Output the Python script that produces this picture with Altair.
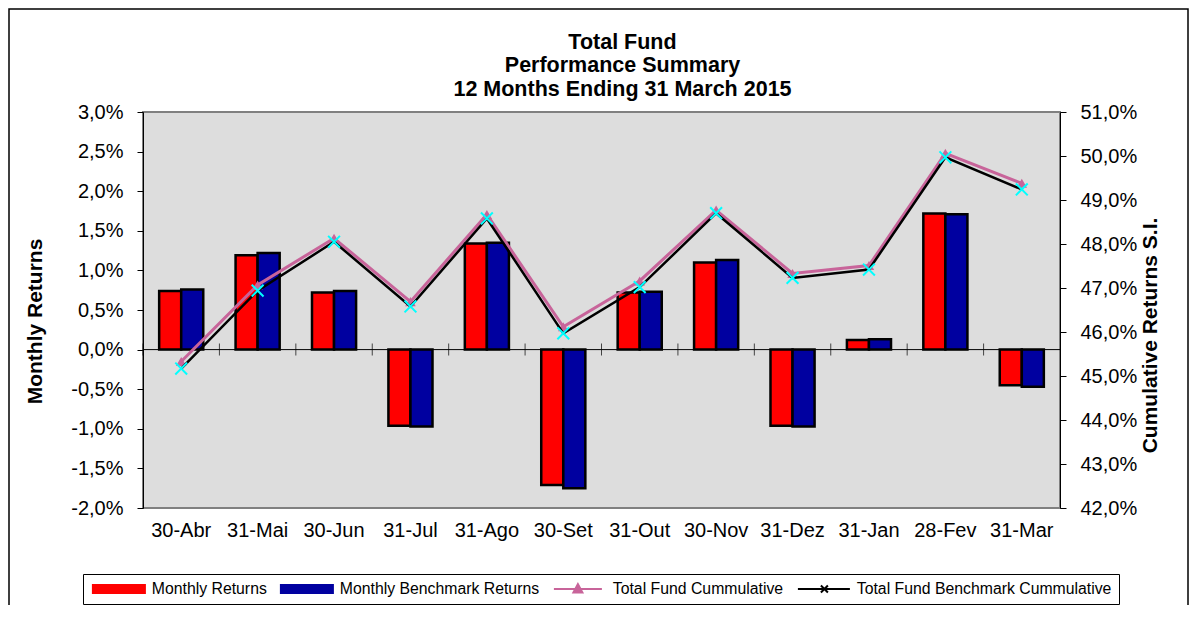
import altair as alt
import pandas as pd

months = ["30-Abr", "31-Mai", "30-Jun", "31-Jul", "31-Ago", "30-Set",
          "31-Out", "30-Nov", "31-Dez", "31-Jan", "28-Fev", "31-Mar"]
monthly_returns = [0.74, 1.19, 0.72, -0.96, 1.34, -1.71, 0.72, 1.10, -0.96, 0.12, 1.72, -0.45]
monthly_benchmark = [0.76, 1.22, 0.74, -0.97, 1.35, -1.75, 0.73, 1.13, -0.97, 0.13, 1.71, -0.47]
fund_cumulative = [45.33, 47.07, 48.13, 46.69, 48.67, 46.12, 47.16, 48.77, 47.33, 47.51, 50.06, 49.38]
bench_cumulative = [45.17, 46.94, 48.05, 46.58, 48.58, 45.97, 47.02, 48.70, 47.23, 47.42, 49.97, 49.24]

series_names = ["Monthly Returns", "Monthly Benchmark Returns",
                "Total Fund Cummulative", "Total Fund Benchmark Cummulative"]
series_colors = ["#FF0000", "#0000A0", "#C8649A", "#000000"]
title_lines = ["Total Fund", "Performance Summary", "12 Months Ending 31 March 2015"]
left_ticks = [-0.02, -0.015, -0.01, -0.005, 0.0, 0.005, 0.01, 0.015, 0.02, 0.025, 0.03]
right_ticks = [0.42, 0.43, 0.44, 0.45, 0.46, 0.47, 0.48, 0.49, 0.50, 0.51]

FONT = "Liberation Sans"
PINK = series_colors[2]

bars_df = pd.DataFrame({
    "month": months * 2,
    "series": [series_names[0]] * 12 + [series_names[1]] * 12,
    "value": [v / 100 for v in monthly_returns + monthly_benchmark],
})
fund_df = pd.DataFrame({"month": months, "series": series_names[2],
                        "value": [v / 100 for v in fund_cumulative]})
bench_df = pd.DataFrame({"month": months, "series": series_names[3],
                         "value": [v / 100 for v in bench_cumulative]})

pct_expr = "replace(replace(format(datum.value, '.1%'), '.', ','), '\u2212', '-')"

shape_expr = (
    "datum.value === 'Monthly Returns' || datum.value === 'Monthly Benchmark Returns' ? "
    "'M-1,-0.8H9.4V0.8H-1Z' : datum.value === 'Total Fund Cummulative' ? "
    "'M-1,0H8.6M2.9,0.7L3.8,-1L4.7,0.7Z' : "
    "'M-1,0H9.4M3.6,-0.7L5,0.7M3.6,0.7L5,-0.7'"
)

legend = alt.Legend(
    title=None, orient="none", legendX=-60, legendY=462,
    direction="horizontal", columns=4, columnPadding=9,
    symbolSize=100, labelOffset=46, labelFont=FONT, labelFontSize=15.8,
    labelLimit=400, labelColor="black", padding=7,
    strokeColor="black", fillColor="white",
    symbolType={"expr": shape_expr}, symbolStrokeWidth=2, symbolOpacity=1,
)

color = alt.Color("series:N",
                  scale=alt.Scale(domain=series_names, range=series_colors),
                  legend=legend)

x_scale = alt.Scale(paddingInner=0, paddingOuter=0)
x_axis = alt.Axis(labelAngle=0, labelFont=FONT, labelFontSize=20,
                  labelColor="black", ticks=False, domain=False,
                  labelPadding=12, title=None)

y_left_scale = alt.Scale(domain=[-0.02, 0.03], nice=False, zero=False)
y_left_axis = alt.Axis(values=left_ticks, labelExpr=pct_expr, grid=False,
                       labelOverlap=False, tickCount=11,
                       labelFont=FONT, labelFontSize=20, labelColor="black",
                       tickSize=6, tickColor="black", domainColor="black",
                       labelPadding=14,
                       title="Monthly Returns", titleFont=FONT,
                       titleFontSize=21, titleFontWeight="bold",
                       titleColor="black", titleAngle=270,
                       titleX=-108, titleY=209, titleAlign="center",
                       titleBaseline="middle")

x_enc = alt.X("month:N", sort=months, title=None, scale=x_scale, axis=x_axis)
y_left = alt.Y("value:Q", title="Monthly Returns", scale=y_left_scale, axis=y_left_axis)

frame = alt.Chart(pd.DataFrame({"a": [0]})).mark_rect(
    fill="transparent", stroke="black", strokeWidth=1.5
).encode(x=alt.value(-134), x2=alt.value(1045), y=alt.value(-103), y2=alt.value(560))

bars = alt.Chart(bars_df).mark_bar(stroke="black", strokeWidth=2.5).encode(
    x=x_enc,
    xOffset=alt.XOffset("series:N", sort=series_names[:2],
                        scale=alt.Scale(paddingOuter=0.733, paddingInner=0)),
    y=y_left,
    color=color,
)

zero_rule = alt.Chart(pd.DataFrame({"value": [0.0]})).mark_rule(
    color="black", strokeWidth=1).encode(y=y_left)

ticks = alt.Chart(pd.DataFrame({"month": months, "value": [0.0] * 12})).mark_tick(
    orient="vertical", color="black", size=12, thickness=1
).encode(x=alt.X("month:N", sort=months, bandPosition=0, title=None,
                 scale=x_scale, axis=x_axis),
         y=y_left)

left_group = alt.layer(frame, bars, zero_rule, ticks)

y_right = alt.Y("value:Q", title="Cumulative Returns S.I.",
                scale=alt.Scale(domain=[0.42, 0.51], nice=False, zero=False),
                axis=alt.Axis(orient="right", values=right_ticks, labelExpr=pct_expr,
                              grid=False, labelOverlap=False,
                              labelFont=FONT, labelFontSize=20,
                              labelColor="black", tickSize=6, tickColor="black",
                              domainColor="black", labelPadding=14,
                              title="Cumulative Returns S.I.", titleFont=FONT,
                              titleFontSize=21, titleFontWeight="bold",
                              titleColor="black", titleAngle=270,
                              titleX=90, titleY=223, titleAlign="center",
                              titleBaseline="middle"))

x_line = alt.X("month:N", sort=months, title=None, scale=x_scale, axis=x_axis)

fund_line = alt.Chart(fund_df).mark_line(strokeWidth=3).encode(
    x=x_line, y=y_right, color=color)
fund_pts = alt.Chart(fund_df).mark_point(
    shape="triangle-up", filled=True, color=PINK, size=110, opacity=1
).encode(x=x_line, y=y_right)
bench_line = alt.Chart(bench_df).mark_line(strokeWidth=2.5).encode(
    x=x_line, y=y_right, color=color)
bench_pts = alt.Chart(bench_df).mark_point(
    shape="M-1,-1L1,1M-1,1L1,-1", filled=False, stroke="#00FFFF",
    strokeWidth=2, size=140, opacity=1
).encode(x=x_line, y=y_right)

right_group = alt.layer(fund_line, fund_pts, bench_line, bench_pts)

chart = alt.layer(left_group, right_group).resolve_scale(
    y="independent"
).properties(
    width=917, height=396,
    background="white",
    autosize=alt.AutoSizeParams(type="none"),
    padding={"left": 135, "top": 104, "right": 129, "bottom": 97},
    title=alt.TitleParams(text=title_lines, font=FONT, fontSize=21.5,
                          fontWeight="bold", color="black", lineHeight=23.5,
                          anchor="middle", dx=21, offset=-92),
).configure_view(
    fill="#DDDDDD", stroke="#808080", strokeWidth=2
)

chart.save("out.html", embed_options={"renderer": "svg", "actions": False})
